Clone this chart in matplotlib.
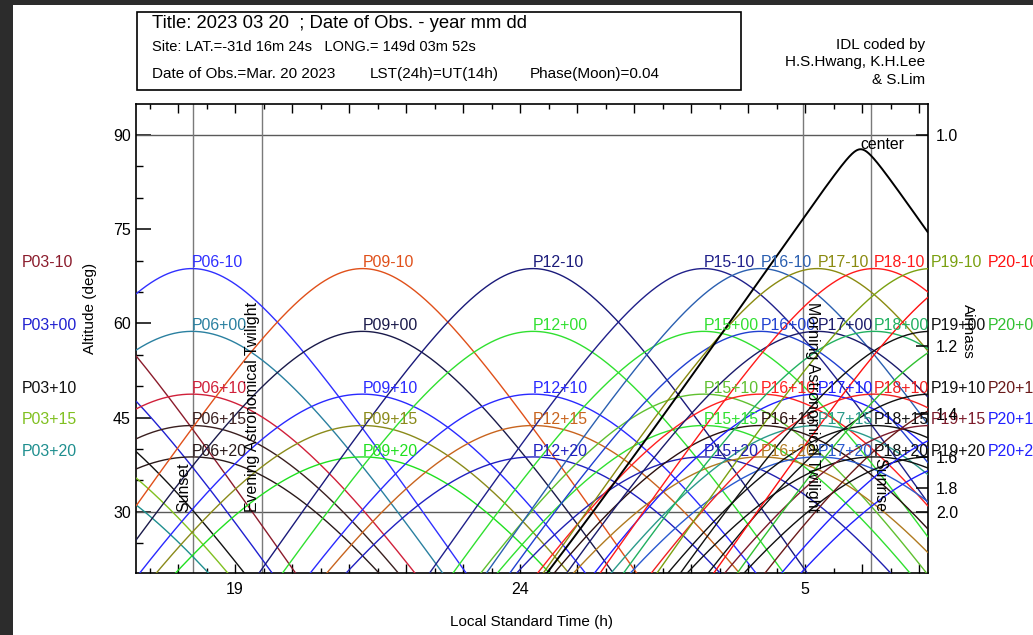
import numpy as np
import matplotlib
matplotlib.use("Agg")
import matplotlib.pyplot as plt
from matplotlib.patches import Rectangle

plt.rcParams['font.family'] = ['Liberation Sans', 'DejaVu Sans']

# ---- site / night information ----
site_lat = -31.2733            # deg
lt_transit_ra6 = 18.246        # local time at which RA=6h crosses the meridian
sunset = 18.27
evening_twilight = 19.47
morning_twilight = 28.96
sunrise = 30.15

# ---- observing fields ----
field_ra = [3, 6, 9, 12, 15, 16, 17, 18, 19, 20]     # hours
field_dec = [-10, 0, 10, 15, 20]                     # degrees
dec_tags = ['-10', '+00', '+10', '+15', '+20']
field_colors = [
    ['#8b1c2c', '#2020d0', '#111111', '#80c020', '#1f8f8f'],   # P03
    ['#3030ff', '#2a80a0', '#d0203a', '#3a1f1f', '#2a1a1a'],   # P06
    ['#e0501a', '#1a1a4a', '#2a2aff', '#8a8a1a', '#20e020'],   # P09
    ['#1a1a7a', '#30e030', '#2a2aff', '#c8641e', '#2020c0'],   # P12
    ['#20208a', '#30e030', '#60c030', '#30e030', '#2020b0'],   # P15
    ['#2a5fb0', '#2040d0', '#ff2020', '#2a1010', '#b07a20'],   # P16
    ['#8a8a10', '#1a1a6a', '#2020ff', '#2a9a8a', '#2a5ad0'],   # P17
    ['#ff1a1a', '#20b060', '#f02020', '#101010', '#101010'],   # P18
    ['#7aa010', '#101010', '#101010', '#7a1a2a', '#101010'],   # P19
    ['#ff1010', '#30c030', '#6a1a1a', '#2020ff', '#2020ff'],   # P20
]
# galactic centre
center_ra = 17.761
center_dec = -29.008

airmass_ticks = [1.0, 1.2, 1.4, 1.6, 1.8, 2.0]
xtick_hours = [19, 24, 29]
xtick_labels = ['19', '24', '5']

SID = 1.0027379


def altitude(lt, ra, dec):
    lst = 6.0 + (lt - lt_transit_ra6) * SID
    ha = np.radians((lst - ra) * 15.0)
    phi = np.radians(site_lat)
    d = np.radians(dec)
    s = np.sin(phi) * np.sin(d) + np.cos(phi) * np.cos(d) * np.cos(ha)
    return np.degrees(np.arcsin(s))


def transit_lt(ra):
    return lt_transit_ra6 + (ra - 6.0) / SID


def max_alt(dec):
    return 90.0 - abs(site_lat - dec)


W, H = 1033, 635
fig = plt.figure(figsize=(W / 100, H / 100), dpi=100)
fig.patch.set_facecolor('white')

# dark frame strips on the left and top edges
fig.patches.append(Rectangle((0, 0), 13 / W, 1, transform=fig.transFigure,
                             facecolor='#2c2c2c', edgecolor='none', zorder=-5))
fig.patches.append(Rectangle((0, 1 - 5 / H), 1, 5 / H, transform=fig.transFigure,
                             facecolor='#2c2c2c', edgecolor='none', zorder=-5))

x0, x1, ytop, ybot = 136.4, 927.6, 103.5, 573.3
ax = fig.add_axes([x0 / W, 1 - ybot / H, (x1 - x0) / W, (ybot - ytop) / H])
xlim = (sunset - 1.0, sunrise + 1.0)
ylim = (20.19, 95.02)
ax.set_xlim(*xlim)
ax.set_ylim(*ylim)

lt = np.linspace(xlim[0], xlim[1], 2000)

label_fs = 11.4
for i, ra in enumerate(field_ra):
    for j, dec in enumerate(field_dec):
        c = field_colors[i][j]
        ax.plot(lt, altitude(lt, ra, dec), color=c, lw=1.0, zorder=3)
        ax.text(transit_lt(ra), max_alt(dec) + 0.9, 'P%02d%s' % (ra, dec_tags[j]),
                color=c, fontsize=label_fs, ha='left', va='center',
                clip_on=False, zorder=5)

ax.plot(lt, altitude(lt, center_ra, center_dec), color='black', lw=1.4, zorder=4)
ax.text(transit_lt(center_ra), max_alt(center_dec) + 0.8, 'center', color='black',
        fontsize=label_fs, ha='left', va='center', zorder=5)

# reference lines
for yv in (90, 30):
    ax.axhline(yv, color='#5a5a5a', lw=1.0, zorder=2)
for xv in (sunset, evening_twilight, morning_twilight, sunrise):
    ax.axvline(xv, color='#7a7a7a', lw=1.0, zorder=2)

px = (xlim[1] - xlim[0]) / (x1 - x0)
ax.text(sunset - 2 * px, 30, 'Sunset', rotation=90, ha='right', va='bottom',
        fontsize=label_fs, zorder=6)
ax.text(evening_twilight - 2 * px, 30, 'Evening Astronomical Twilight', rotation=90,
        ha='right', va='bottom', fontsize=label_fs, zorder=6)
ax.text(morning_twilight + 2 * px, 30, 'Morning Astronomical Twilight', rotation=270,
        ha='left', va='bottom', fontsize=label_fs, zorder=6)
ax.text(sunrise + 2 * px, 30, 'Sunrise', rotation=270, ha='left', va='bottom',
        fontsize=label_fs, zorder=6)

# axes styling
for s in ax.spines.values():
    s.set_linewidth(1.2)
ax.set_yticks([30, 45, 60, 75, 90])
ax.set_yticks(np.arange(25, 95, 5), minor=True)
ax.set_xticks(np.arange(18, 32, 1))
ax.set_xticklabels([xtick_labels[xtick_hours.index(h)] if h in xtick_hours else ''
                    for h in range(18, 32)])
ax.set_xticks(np.arange(17.5, 31.2, 0.5), minor=True)
ax.tick_params(axis='y', which='major', direction='in', length=11, width=1.1,
               labelsize=11.5, pad=4, left=True, right=False)
ax.tick_params(axis='y', which='minor', direction='in', length=5, width=1.0,
               left=True, right=False)
ax.tick_params(axis='x', which='major', direction='in', length=6.5, width=1.0,
               labelsize=11.5, pad=6, top=True, bottom=True)
ax.tick_params(axis='x', which='minor', direction='in', length=3.5, width=1.0,
               top=True, bottom=True)

ax.set_xlabel('Local Standard Time (h)', fontsize=11, labelpad=13)
fig.text(90 / W, 1 - 308 / H, 'Altitude (deg)', rotation=90, ha='center',
         va='center', fontsize=11)

# airmass scale on the right
ax2 = ax.twinx()
ax2.set_ylim(*ylim)
am_alt = [90.0 - np.degrees(np.arccos(1.0 / a)) for a in airmass_ticks]
ax2.set_yticks(am_alt)
ax2.set_yticklabels(['%.1f' % a for a in airmass_ticks])
ax2.tick_params(axis='y', direction='in', length=9, width=1.1, labelsize=11.5, pad=6)
for s in ax2.spines.values():
    s.set_visible(False)
fig.text(968 / W, 1 - 331 / H, 'Airmass', rotation=270, ha='center', va='center',
         fontsize=11)

# header box
fig.patches.append(Rectangle((137 / W, 1 - 90 / H), (741 - 137) / W, 78 / H,
                             transform=fig.transFigure, facecolor='none',
                             edgecolor='black', lw=1.2))
fig.text(152 / W, 1 - 24 / H, 'Title: 2023 03 20  ; Date of Obs. - year mm dd',
         fontsize=13.3, ha='left', va='center')
fig.text(152 / W, 1 - 47 / H, 'Site: LAT.=-31d 16m 24s   LONG.= 149d 03m 52s',
         fontsize=10.5, ha='left', va='center')
fig.text(152 / W, 1 - 74 / H, 'Date of Obs.=Mar. 20 2023', fontsize=11,
         ha='left', va='center')
fig.text(370 / W, 1 - 74 / H, 'LST(24h)=UT(14h)', fontsize=11, ha='left', va='center')
fig.text(530 / W, 1 - 74 / H, 'Phase(Moon)=0.04', fontsize=11, ha='left', va='center')

fig.text(925 / W, 1 - 45 / H, 'IDL coded by', fontsize=11, ha='right', va='center')
fig.text(925 / W, 1 - 62 / H, 'H.S.Hwang, K.H.Lee', fontsize=11, ha='right', va='center')
fig.text(925 / W, 1 - 80 / H, '& S.Lim', fontsize=11, ha='right', va='center')

fig.savefig('out.png', dpi=100)
